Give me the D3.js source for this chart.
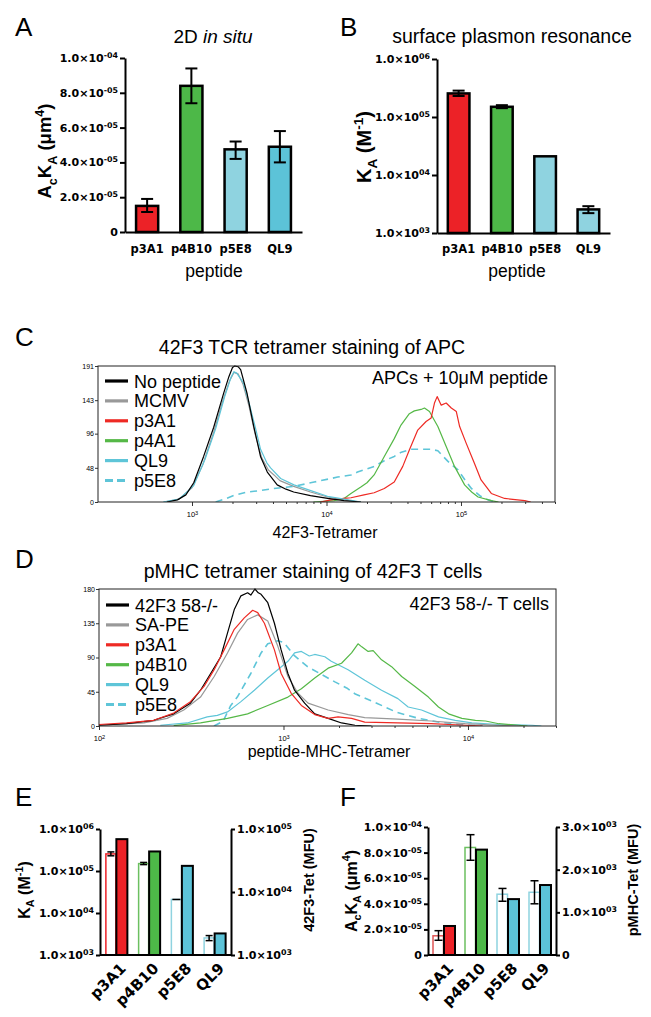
<!DOCTYPE html>
<html><head><meta charset="utf-8">
<script src="https://cdn.jsdelivr.net/npm/d3@7"></script>
<style>body{margin:0;background:#fff}svg{display:block}</style>
</head><body>
<svg id="fig" width="651" height="1017"></svg>
<script>
// ---------------- data ----------------
const peptides = ["p3A1", "p4B10", "p5E8", "QL9"];
const acka = [1.5e-5, 8.4e-5, 4.75e-5, 4.9e-5];
const ackaErr = [[1.15e-5, 1.9e-5], [7.4e-5, 9.4e-5], [4.2e-5, 5.2e-5], [4.0e-5, 5.8e-5]];
const ka = [2.55e5, 1.5e5, 2.1e4, 2.55e3];
const kaErr = [[2.3e5, 2.85e5], [1.42e5, 1.6e5], null, [2.2e3, 2.9e3]];
const tetMFU = [6.9e4, 4.4e4, 2.6e4, 2.2e3];
const pmhcMFU = [680, 2470, 1310, 1640];
const ackaTicks = [0, 2e-5, 4e-5, 6e-5, 8e-5, 1e-4];
const kaTicks = [1e3, 1e4, 1e5, 1e6];
const tetTicks = [1e3, 1e4, 1e5];
const pmhcTicks = [0, 1000, 2000, 3000];

const histTicksC = [0, 48, 96, 143, 191];
const histTicksD = [0, 45, 90, 135, 180];
const legendC = ["No peptide", "MCMV", "p3A1", "p4A1", "QL9", "p5E8"];
const legendD = ["42F3 58-/-", "SA-PE", "p3A1", "p4B10", "QL9", "p5E8"];

// panel C histograms [intensity, count]
const cNoPeptide = [[650,0],[780,3],[900,10],[1030,27],[1220,64],[1450,105],[1720,153],[1880,176],[2000,189],[2080,191],[2200,190],[2300,186],[2570,152],[2880,106],[3230,64],[3630,42],[4300,24],[5000,18],[5700,14],[7600,9],[10200,5],[13500,2],[18000,0]];
const cMCMV = [[620,0],[800,4],[1000,20],[1200,52],[1450,98],[1700,143],[1900,170],[2050,182],[2200,180],[2400,165],[2650,135],[2950,95],[3300,62],[3700,45],[4070,38],[4500,30],[5700,22],[7600,14],[10200,7],[13500,3],[18000,0]];
const cP3A1 = [[9000,0],[10800,3],[13500,5],[15200,6],[19000,10],[22600,13],[26900,19],[31900,28],[36900,50],[41300,73],[47700,101],[55000,113],[60000,118],[63500,139],[66500,148],[71300,136],[77600,139],[84700,132],[92300,127],[97700,106],[109600,82],[126000,54],[141000,31],[168000,12],[211000,5],[298000,2],[330000,0]];
const cP4A1 = [[8000,0],[11400,2],[13500,5],[15200,12],[18000,21],[20000,27],[22600,38],[26900,64],[31900,89],[35800,108],[41300,124],[45000,128],[50500,130],[53500,132],[58300,127],[62000,118],[67300,106],[77600,78],[89500,50],[106400,24],[120000,14],[134000,7],[168300,2],[190000,0]];
const cQL9 = [[610,0],[800,4],[1030,23],[1250,60],[1500,103],[1750,148],[1950,175],[2050,183],[2150,181],[2400,168],[2650,140],[3000,100],[3234,74],[3600,55],[3840,48],[4560,33],[5730,24],[7640,16],[10170,8],[13500,4],[18000,0]];
const cP5E8 = [[1500,0],[1800,5],[2040,9],[2570,14],[3200,16],[4070,19],[5730,22],[8100,28],[10800,33],[12100,35],[15200,38],[17000,42],[22600,50],[26900,58],[31900,64],[36000,70],[42500,74],[50000,74],[60000,74],[67300,72],[80000,57],[95000,45],[108000,30],[119500,19],[140000,8],[159000,3],[180000,0]];

// panel D histograms [intensity, count]
const d42F3 = [[100,1],[141,3],[198,7.5],[254,16],[313,30],[355,47],[403,69],[457,91],[497,122],[541,153],[588,171],[639,175],[665,172],[700,180],[730,175],[756,173],[822,162],[893,135],[971,100],[1057,69],[1148,47],[1302,30],[1477,16],[1746,10],[2064,4],[2440,1],[3000,0]];
const dSAPE = [[100,1],[175,4],[234,10],[288,21],[355,38],[421,65],[497,96],[564,122],[639,140],[725,146],[822,138],[931,105],[1057,65],[1199,43],[1359,30],[1746,21],[2245,15],[2757,11],[4170,9],[6310,6.6],[9660,3],[14700,1],[19000,0]];
const dP3A1 = [[100,2],[141,4],[198,7.5],[254,17],[313,32],[371,52],[421,74],[477,100],[541,127],[613,142],[681,152],[725,149],[788,135],[893,100],[971,69],[1101,43],[1250,27],[1477,15],[1746,10],[1977,12],[2339,10],[2757,5],[4170,4],[6310,3],[9660,1],[12000,0]];
const dP4B10 = [[254,0.5],[355,4],[497,10],[639,16],[822,27],[1057,38],[1250,49],[1477,63],[1746,76],[2064,82.5],[2339,96],[2535,108],[2656,104],[2876,98],[3062,99],[3400,87],[3854,78],[4370,65],[5160,52],[6100,38],[6920,25],[7850,16],[9270,10],[10970,7.5],[12440,6.6],[14700,3],[18900,1],[21000,0]];
const dQL9 = [[215,1],[301,4],[386,12],[438,14],[497,18.5],[588,32],[695,47],[822,63],[931,74],[1057,85],[1148,96],[1250,98],[1380,92],[1477,94],[1675,91],[1815,85],[2240,74],[2757,60],[3400,47],[4170,36],[4740,25],[5600,21],[6920,12],[8530,7.5],[10500,4],[14700,2],[22300,1],[25000,0]];
const dP5E8 = [[420,0],[470,6],[518,27],[562,38],[600,50],[665,69],[756,96],[822,108],[930,112],[1000,110],[1150,92],[1350,78],[1600,68],[1900,58],[2200,50],[2450,42],[3200,30],[4100,18],[5400,10],[7000,5],[9000,2],[12000,0]];

// ---------------- styles ----------------
const RED = "#ec2227", GREEN = "#4db848", CYANL = "#8fd3e0", CYAN = "#5cc3d8";
const barFill = [RED, GREEN, CYANL, CYAN];
const barFillB = [RED, GREEN, CYANL, CYANL];
const barFillEF = [RED, GREEN, CYAN, CYAN];
const openStroke = [RED, "#6cc060", CYANL, CYANL];
const SANS = "Liberation Sans, Arial, Helvetica, sans-serif";
const BOLDF = "DejaVu Sans, sans-serif";

const svg = d3.select("#fig");

function sciLabels(g) {
  g.selectAll(".tick text").each(function (d) {
    const t = d3.select(this);
    t.text("");
    if (d === 0) { t.text("0"); return; }
    const e = Math.floor(Math.log10(d) + 1e-9);
    const m = d / Math.pow(10, e);
    t.append("tspan").text(m.toFixed(1) + "×10");
    t.append("tspan").attr("dy", "-0.5em").attr("font-size", "0.72em")
      .text((e < 0 ? "-" : "") + String(Math.abs(e)).padStart(2, "0"));
  });
}
function styleAxis(g, w, fs, fam, weight) {
  g.attr("font-family", fam).attr("font-size", fs).attr("font-weight", weight);
  g.select(".domain").attr("stroke", "#000").attr("stroke-width", w);
  g.selectAll(".tick line").attr("stroke", "#000").attr("stroke-width", w);
  g.selectAll(".tick text").attr("fill", "#000");
}
function rich(t, parts, fs) {
  let cur = 0;
  parts.forEach(([s, k]) => {
    const target = k === "sub" ? 0.3 * fs : k === "sup" ? -0.42 * fs : 0;
    const ts = t.append("tspan").text(s).attr("dy", target - cur);
    if (k !== "n") ts.attr("font-size", fs * 0.68);
    cur = target;
  });
}
function rotTitle(cx, cy, parts, fs, weight) {
  const t = svg.append("text").attr("transform", `translate(${cx},${cy}) rotate(-90)`)
    .attr("text-anchor", "middle").attr("font-family", "Liberation Sans, Arial, sans-serif")
    .attr("font-weight", weight || "bold").attr("font-size", fs).attr("y", fs * 0.35);
  rich(t, parts, fs);
}
function letter(s, x, y) {
  svg.append("text").attr("x", x).attr("y", y).attr("font-family", SANS)
    .attr("font-size", 26).text(s);
}
function errBar(x, y1, y2, cap, w) {
  const g = svg.append("g").attr("stroke", "#000").attr("stroke-width", w);
  g.append("line").attr("x1", x).attr("x2", x).attr("y1", y1).attr("y2", y2);
  g.append("line").attr("x1", x - cap / 2).attr("x2", x + cap / 2).attr("y1", y1).attr("y2", y1);
  g.append("line").attr("x1", x - cap / 2).attr("x2", x + cap / 2).attr("y1", y2).attr("y2", y2);
}

// ---------------- Panel A ----------------
letter("A", 15, 36);
{
  const t = svg.append("text").attr("x", 213).attr("y", 43).attr("text-anchor", "middle")
    .attr("font-family", SANS).attr("font-size", 19);
  t.append("tspan").text("2D ");
  t.append("tspan").attr("font-style", "italic").text("in situ");
}
const xA = d3.scaleBand().domain(peptides).range([125, 302]).paddingInner(0.5).paddingOuter(0.25);
const yA = d3.scaleLinear().domain([0, 1e-4]).range([232, 58]);
svg.selectAll(".barA").data(peptides).join("rect")
  .attr("x", d => xA(d)).attr("width", xA.bandwidth())
  .attr("y", (d, i) => yA(acka[i])).attr("height", (d, i) => yA(0) - yA(acka[i]))
  .attr("fill", (d, i) => barFill[i]).attr("stroke", "#000").attr("stroke-width", 2.5);
peptides.forEach((p, i) => errBar(xA(p) + xA.bandwidth() / 2, yA(ackaErr[i][0]), yA(ackaErr[i][1]), 12, 2));
{
  const gy = svg.append("g").attr("transform", "translate(125,0)")
    .call(d3.axisLeft(yA).tickValues(ackaTicks).tickSize(5).tickPadding(2).tickSizeOuter(0));
  styleAxis(gy, 2, 11, BOLDF, "bold"); sciLabels(gy);
  const gx = svg.append("g").attr("transform", "translate(0,232)")
    .call(d3.axisBottom(xA).tickSize(0).tickPadding(13).tickSizeOuter(0));
  styleAxis(gx, 2, 11.5, BOLDF, "bold");
}
svg.append("text").attr("x", 214).attr("y", 277).attr("text-anchor", "middle")
  .attr("font-family", SANS).attr("font-size", 17.5).text("peptide");
rotTitle(45, 151, [["A", "n"], ["c", "sub"], ["K", "n"], ["A", "sub"], [" (μm", "n"], ["4", "sup"], [")", "n"]], 18.5);

// ---------------- Panel B ----------------
letter("B", 340, 36);
svg.append("text").attr("x", 512).attr("y", 43).attr("text-anchor", "middle")
  .attr("font-family", SANS).attr("font-size", 19.5).text("surface plasmon resonance");
const xB = d3.scaleBand().domain(peptides).range([437, 610]).paddingInner(0.5).paddingOuter(0.25);
const yB = d3.scaleLog().domain([1e3, 1e6]).range([233, 59]);
svg.selectAll(".barB").data(peptides).join("rect")
  .attr("x", d => xB(d)).attr("width", xB.bandwidth())
  .attr("y", (d, i) => yB(ka[i])).attr("height", (d, i) => yB(1e3) - yB(ka[i]))
  .attr("fill", (d, i) => barFillB[i]).attr("stroke", "#000").attr("stroke-width", 2.5);
peptides.forEach((p, i) => { if (kaErr[i]) errBar(xB(p) + xB.bandwidth() / 2, yB(kaErr[i][0]), yB(kaErr[i][1]), 12, 2); });
{
  const gy = svg.append("g").attr("transform", "translate(437,0)")
    .call(d3.axisLeft(yB).tickValues(kaTicks).tickSize(5).tickPadding(2).tickSizeOuter(0));
  styleAxis(gy, 2, 11, BOLDF, "bold"); sciLabels(gy);
  const gx = svg.append("g").attr("transform", "translate(0,233)")
    .call(d3.axisBottom(xB).tickSize(0).tickPadding(12).tickSizeOuter(0));
  styleAxis(gx, 2, 11.5, BOLDF, "bold");
}
svg.append("text").attr("x", 517).attr("y", 277).attr("text-anchor", "middle")
  .attr("font-family", SANS).attr("font-size", 17.5).text("peptide");
rotTitle(364, 147, [["K", "n"], ["A", "sub"], [" (M", "n"], ["-1", "sup"], [")", "n"]], 20);

// ---------------- histogram panels ----------------
function histPanel(cfg) {
  const x = d3.scaleLog().domain(cfg.xDomain).range([cfg.x0, cfg.x1]);
  const y = d3.scaleLinear().domain([0, cfg.yMax]).range([cfg.y1, cfg.y0]);
  const id = "clip" + cfg.key;
  svg.append("clipPath").attr("id", id).append("rect")
    .attr("x", cfg.x0).attr("y", cfg.y0 - 2).attr("width", cfg.x1 - cfg.x0).attr("height", cfg.y1 - cfg.y0 + 2);
  const gy = svg.append("g").attr("transform", `translate(${cfg.x0},0)`)
    .call(d3.axisLeft(y).tickValues(cfg.yTicks).tickSize(3).tickPadding(1).tickSizeOuter(0));
  styleAxis(gy, 0.8, 7, SANS, "normal");
  gy.select(".domain").remove();
  const majors = cfg.majors;
  const minors = [];
  majors.forEach(m => { for (let k = 2; k <= 9; k++) { const v = m * k; if (v >= cfg.minorFrom && v <= cfg.xDomain[1]) minors.push(v); } });
  const gxm = svg.append("g").attr("transform", `translate(0,${cfg.y1})`)
    .call(d3.axisBottom(x).tickValues(minors).tickSize(2).tickFormat("").tickSizeOuter(0));
  styleAxis(gxm, 0.8, 7, SANS, "normal"); gxm.select(".domain").remove();
  const gx = svg.append("g").attr("transform", `translate(0,${cfg.y1})`)
    .call(d3.axisBottom(x).tickValues(majors).tickSize(4).tickPadding(6).tickSizeOuter(0));
  styleAxis(gx, 0.8, 7.5, SANS, "normal"); gx.select(".domain").remove();
  gx.selectAll(".tick text").each(function (d) {
    const t = d3.select(this); t.text("");
    t.append("tspan").text("10");
    t.append("tspan").attr("dy", "-0.45em").attr("font-size", "0.75em").text(Math.round(Math.log10(d)));
  });
  const line = d3.line().x(d => x(d[0])).y(d => y(d[1]));
  const cg = svg.append("g").attr("clip-path", `url(#${id})`).attr("fill", "none");
  cfg.curves.forEach(c => {
    cg.append("path").datum(c.data).attr("d", line).attr("stroke", c.color)
      .attr("stroke-width", c.dash ? 1.6 : 1.2).attr("stroke-dasharray", c.dash ? "7,5" : null)
      .attr("stroke-linejoin", "round");
  });
  svg.append("rect").attr("x", cfg.x0).attr("y", cfg.y0).attr("width", cfg.x1 - cfg.x0)
    .attr("height", cfg.y1 - cfg.y0).attr("fill", "none").attr("stroke", "#222").attr("stroke-width", 1);
  cfg.legend.forEach((lab, i) => {
    const st = cfg.legendStyle[i];
    const ly = cfg.legendY + i * 19.9;
    svg.append("line").attr("x1", cfg.x0 + 7).attr("x2", cfg.x0 + 30).attr("y1", ly).attr("y2", ly)
      .attr("stroke", st.color).attr("stroke-width", 3.2).attr("stroke-dasharray", st.dash ? "8,4" : null);
    svg.append("text").attr("x", cfg.x0 + 36).attr("y", ly + 6.5).attr("font-family", SANS)
      .attr("font-size", 18).text(lab);
  });
  svg.append("text").attr("x", cfg.x1 - 7).attr("y", cfg.noteY).attr("text-anchor", "end")
    .attr("font-family", SANS).attr("font-size", 18).text(cfg.note);
  svg.append("text").attr("x", cfg.xlabX).attr("y", cfg.xlabY).attr("text-anchor", "middle")
    .attr("font-family", SANS).attr("font-size", 16).text(cfg.xlabel);
  svg.append("text").attr("x", cfg.titleX).attr("y", cfg.titleY).attr("text-anchor", "middle")
    .attr("font-family", SANS).attr("font-size", 19.5).text(cfg.title);
}

const BLACK = "#000", GRAY = "#999", HRED = "#ee2a24", HGREEN = "#55b847", HCYAN = "#5ec5d8";
letter("C", 15, 346);
histPanel({
  key: "C", x0: 98, x1: 555, y0: 366, y1: 502, xDomain: [200, 500000], yMax: 191,
  yTicks: histTicksC, majors: [1e3, 1e4, 1e5], minorFrom: 2000,
  curves: [
    { data: cMCMV, color: GRAY }, { data: cP5E8, color: HCYAN, dash: true },
    { data: cP4A1, color: HGREEN }, { data: cP3A1, color: HRED },
    { data: cQL9, color: HCYAN }, { data: cNoPeptide, color: BLACK }
  ],
  legend: legendC,
  legendStyle: [{ color: BLACK }, { color: GRAY }, { color: HRED }, { color: HGREEN }, { color: HCYAN }, { color: HCYAN, dash: true }],
  legendY: 381, note: "APCs + 10μM peptide", noteY: 384,
  xlabel: "42F3-Tetramer", xlabX: 325, xlabY: 538,
  title: "42F3 TCR tetramer staining of APC", titleX: 312, titleY: 354
});

letter("D", 15, 568);
histPanel({
  key: "D", x0: 99, x1: 556, y0: 589, y1: 726, xDomain: [100, 30000], yMax: 180,
  yTicks: histTicksD, majors: [1e2, 1e3, 1e4], minorFrom: 2000,
  curves: [
    { data: dQL9, color: HCYAN }, { data: dP5E8, color: HCYAN, dash: true },
    { data: dP4B10, color: HGREEN }, { data: dSAPE, color: GRAY },
    { data: d42F3, color: BLACK }, { data: dP3A1, color: HRED }
  ],
  legend: legendD,
  legendStyle: [{ color: BLACK }, { color: GRAY }, { color: HRED }, { color: HGREEN }, { color: HCYAN }, { color: HCYAN, dash: true }],
  legendY: 605, note: "42F3 58-/- T cells", noteY: 610,
  xlabel: "peptide-MHC-Tetramer", xlabX: 329, xlabY: 757,
  title: "pMHC tetramer staining of 42F3 T cells", titleX: 313, titleY: 578
});

// ---------------- Panel E ----------------
letter("E", 15, 806);
const xE = d3.scaleBand().domain(peptides).range([100, 231]);
const yEl = d3.scaleLog().domain([1e3, 1e6]).range([955, 829]);
const yEr = d3.scaleLog().domain([1e3, 1e5]).range([955, 829]);
peptides.forEach((p, i) => {
  const c = xE(p) + xE.bandwidth() / 2;
  svg.append("rect").attr("x", c - 10.5).attr("width", 10).attr("y", yEl(ka[i])).attr("height", 955 - yEl(ka[i]))
    .attr("fill", "#fff").attr("stroke", openStroke[i]).attr("stroke-width", 1.5);
  svg.append("rect").attr("x", c).attr("width", 11).attr("y", yEr(tetMFU[i])).attr("height", 955 - yEr(tetMFU[i]))
    .attr("fill", barFillEF[i]).attr("stroke", "#000").attr("stroke-width", 2);
  if (kaErr[i]) errBar(c - 5.5, yEl(kaErr[i][0]), yEl(kaErr[i][1]), 7, 1.5);
  else svg.append("line").attr("x1", c - 9.5).attr("x2", c - 1.5).attr("y1", yEl(ka[i])).attr("y2", yEl(ka[i])).attr("stroke", "#000").attr("stroke-width", 1.5);
  svg.append("text").attr("transform", `translate(${c + 3},962) rotate(-45)`).attr("text-anchor", "end")
    .attr("font-family", BOLDF).attr("font-weight", "bold").attr("font-size", 15).attr("dy", "0.7em").text(p);
});
{
  const gl = svg.append("g").attr("transform", "translate(100,0)")
    .call(d3.axisLeft(yEl).tickValues(kaTicks).tickSize(4).tickPadding(2).tickSizeOuter(0));
  styleAxis(gl, 2, 11, BOLDF, "bold"); sciLabels(gl);
  const gr = svg.append("g").attr("transform", "translate(231,0)")
    .call(d3.axisRight(yEr).tickValues(tetTicks).tickSize(4).tickPadding(2).tickSizeOuter(0));
  styleAxis(gr, 2, 11, BOLDF, "bold"); sciLabels(gr);
  svg.append("line").attr("x1", 100).attr("x2", 231).attr("y1", 955).attr("y2", 955).attr("stroke", "#000").attr("stroke-width", 2);
}
rotTitle(24, 890, [["K", "n"], ["A", "sub"], [" (M", "n"], ["-1", "sup"], [")", "n"]], 16);
rotTitle(309, 880, [["42F3-Tet (MFU)", "n"]], 14.5);

// ---------------- Panel F ----------------
letter("F", 340, 806);
const xF = d3.scaleBand().domain(peptides).range([428, 556]);
const yFl = d3.scaleLinear().domain([0, 1e-4]).range([955, 827]);
const yFr = d3.scaleLinear().domain([0, 3000]).range([955, 827]);
const openStrokeF = ["#e05555", "#6cc060", CYANL, CYANL];
peptides.forEach((p, i) => {
  const c = xF(p) + xF.bandwidth() / 2;
  svg.append("rect").attr("x", c - 11).attr("width", 10.5).attr("y", yFl(acka[i])).attr("height", 955 - yFl(acka[i]))
    .attr("fill", "#fff").attr("stroke", openStrokeF[i]).attr("stroke-width", 1.5);
  svg.append("rect").attr("x", c).attr("width", 11).attr("y", yFr(pmhcMFU[i])).attr("height", 955 - yFr(pmhcMFU[i]))
    .attr("fill", barFillEF[i]).attr("stroke", "#000").attr("stroke-width", 2);
  errBar(c - 5.5, yFl(ackaErr[i][0]), yFl(ackaErr[i][1]), 8, 1.5);
  svg.append("text").attr("transform", `translate(${c + 3},962) rotate(-45)`).attr("text-anchor", "end")
    .attr("font-family", BOLDF).attr("font-weight", "bold").attr("font-size", 15).attr("dy", "0.7em").text(p);
});
{
  const gl = svg.append("g").attr("transform", "translate(428,0)")
    .call(d3.axisLeft(yFl).tickValues(ackaTicks).tickSize(4).tickPadding(2).tickSizeOuter(0));
  styleAxis(gl, 2, 11, BOLDF, "bold"); sciLabels(gl);
  const gr = svg.append("g").attr("transform", "translate(556,0)")
    .call(d3.axisRight(yFr).tickValues(pmhcTicks).tickSize(4).tickPadding(2).tickSizeOuter(0));
  styleAxis(gr, 2, 11, BOLDF, "bold"); sciLabels(gr);
  svg.append("line").attr("x1", 428).attr("x2", 556).attr("y1", 955).attr("y2", 955).attr("stroke", "#000").attr("stroke-width", 2);
}
rotTitle(351, 891, [["A", "n"], ["c", "sub"], ["K", "n"], ["A", "sub"], [" (μm", "n"], ["4", "sup"], [")", "n"]], 16);
rotTitle(633, 880, [["pMHC-Tet (MFU)", "n"]], 14.5);
</script>
</body></html>
